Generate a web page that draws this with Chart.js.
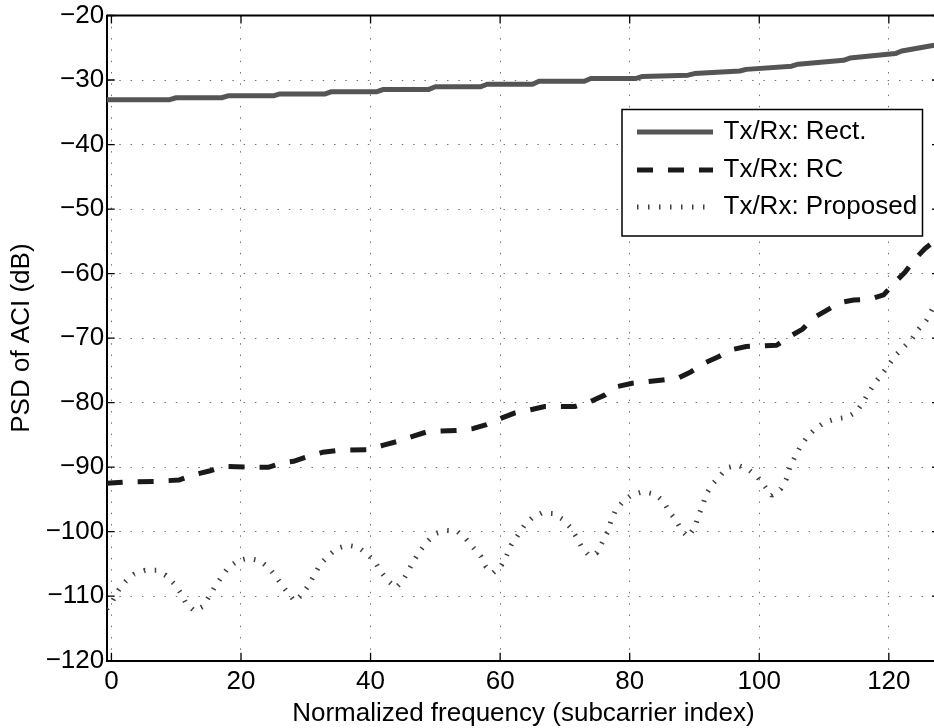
<!DOCTYPE html>
<html><head><meta charset="utf-8">
<style>
html,body{margin:0;padding:0;background:#fff;overflow:hidden;width:934px;height:728px}
#wrap{position:relative;width:942px;height:728px}
</style>
<script src="https://cdn.jsdelivr.net/npm/chart.js@4.4.0/dist/chart.umd.min.js"></script>
</head><body><div id="wrap"><canvas id="c" width="942" height="728"></canvas></div>
<script>
// ---- data ----
const xTicks = [0, 20, 40, 60, 80, 100, 120];
const yTicks = [-120, -110, -100, -90, -80, -70, -60, -50, -40, -30, -20];
const seriesNames = ['Tx/Rx: Rect.', 'Tx/Rx: RC', 'Tx/Rx: Proposed'];

const rectX = [-0.73, 9, 10, 17, 18, 25, 26, 33, 34, 41, 42, 49, 50, 57, 58, 65, 66, 73, 74, 81, 82, 89, 90, 97, 98, 105, 106, 113, 114, 121, 122, 127];
const rectY = [-33.05, -33.05, -32.75, -32.75, -32.45, -32.45, -32.15, -32.15, -31.8, -31.8, -31.45, -31.45, -31.05, -31.05, -30.65, -30.65, -30.2, -30.2, -29.75, -29.75, -29.45, -29.25, -29.0, -28.6, -28.35, -27.85, -27.55, -26.95, -26.6, -25.9, -25.5, -24.6];

const rcX = [-0.73, 2.1, 6.9, 10.4, 12.6, 15.1, 17.3, 22.0, 24.3, 26.6, 28.1, 30.2, 32.6, 34.9, 39.6, 42.0, 44.2, 46.6, 48.8, 53.4, 55.9, 57.9, 60.2, 62.3, 64.7, 66.9, 71.6, 74.0, 76.2, 78.1, 80.4, 85.1, 87.5, 89.5, 91.5, 93.7, 95.7, 98.0, 102.7, 104.6, 106.7, 108.3, 110.4, 112.4, 114.6, 117.0, 119.2, 120.9, 122.5, 123.9, 125.6, 127];
const rcY = [-92.5, -92.3, -92.2, -92.0, -91.2, -90.6, -89.9, -90.0, -90.0, -89.3, -89.1, -88.4, -87.7, -87.4, -87.3, -86.6, -86.0, -85.2, -84.5, -84.3, -84.0, -83.4, -82.4, -81.6, -81.1, -80.6, -80.6, -79.8, -78.8, -77.5, -77.0, -76.5, -76.2, -75.2, -73.9, -72.9, -71.8, -71.3, -71.1, -69.8, -68.6, -66.9, -65.7, -64.5, -64.1, -64.0, -63.3, -61.4, -59.8, -57.9, -56.1, -55.0];

const propX = [-0.73, 0.2, 1.07, 2.2, 3.5, 5.2, 7.0, 8.4, 9.7, 10.7, 11.5, 12.8, 14.1, 15.1, 16.0, 17.0, 18.0, 19.5, 21.1, 22.9, 24.3, 25.4, 26.4, 27.5, 28.3, 29.5, 30.5, 31.3, 32.2, 33.3, 34.8, 36.4, 38.1, 39.5, 40.7, 41.6, 42.7, 43.9, 45.0, 45.9, 46.7, 47.6, 48.7, 50.0, 51.6, 53.3, 54.7, 55.8, 57.0, 57.8, 58.9, 60.2, 61.0, 61.7, 62.7, 63.7, 64.9, 66.4, 68.2, 69.7, 70.9, 71.8, 72.6, 73.7, 74.9, 75.8, 76.6, 77.1, 77.8, 79.0, 80.3, 82.1, 83.9, 85.2, 86.1, 87.2, 88.0, 89.0, 90.1, 90.6, 91.3, 91.8, 92.8, 93.9, 95.0, 96.7, 98.4, 99.8, 100.8, 101.9, 103.3, 104.2, 104.7, 105.5, 106.3, 107.4, 108.6, 110.0, 111.8, 113.5, 115.0, 116.0, 116.9, 117.9, 119.0, 120.1, 121.1, 122.3, 123.6, 124.6, 125.8, 127];
const propY = [-112.0, -110.7, -109.1, -107.7, -106.6, -106.0, -106.0, -106.8, -108.1, -109.5, -111.1, -112.3, -111.6, -110.0, -108.5, -107.0, -105.6, -104.5, -104.1, -104.5, -105.6, -107.0, -108.4, -109.8, -110.8, -109.7, -108.2, -106.7, -105.1, -103.9, -102.6, -102.1, -102.4, -103.5, -104.7, -106.2, -107.6, -108.7, -107.6, -105.9, -104.5, -103.0, -101.6, -100.3, -99.8, -99.9, -101.1, -102.4, -103.8, -105.4, -106.4, -105.2, -103.7, -102.1, -100.6, -99.1, -97.9, -97.1, -97.2, -98.1, -99.4, -100.9, -102.4, -103.7, -103.3, -101.6, -100.0, -98.4, -96.7, -95.3, -94.3, -93.8, -94.2, -95.3, -96.9, -98.3, -99.8, -100.8, -99.2, -97.6, -95.8, -94.2, -92.6, -91.4, -90.1, -89.7, -90.4, -91.6, -92.9, -94.4, -93.4, -91.8, -90.1, -88.4, -86.9, -85.3, -84.1, -83.1, -82.5, -82.3, -81.4, -80.0, -78.4, -76.9, -75.5, -74.0, -72.6, -71.4, -70.1, -68.6, -67.2, -65.0];

// ---- build chart ----
const FONT = '"Liberation Sans", Arial, Helvetica, sans-serif';
const FS = 26;
const pts = (xs, ys) => xs.map((x, i) => ({x: x, y: ys[i]}));
const fmt = v => (v < 0 ? '\u2212' + Math.abs(v) : String(v));

const inwardTicks = {
  id: 'inwardTicks',
  afterDatasetsDraw(chart) {
    const {ctx, chartArea: a, scales: {x, y}} = chart;
    const L = 8;
    ctx.save();
    ctx.strokeStyle = '#000';
    ctx.lineWidth = 1.3;
    ctx.beginPath();
    xTicks.forEach(v => {
      const px = x.getPixelForValue(v);
      ctx.moveTo(px, a.bottom); ctx.lineTo(px, a.bottom - L);
      ctx.moveTo(px, a.top); ctx.lineTo(px, a.top + L);
    });
    yTicks.forEach(v => {
      const py = y.getPixelForValue(v);
      ctx.moveTo(a.left, py); ctx.lineTo(a.left + L, py);
      ctx.moveTo(a.right, py); ctx.lineTo(a.right - L, py);
    });
    ctx.stroke();
    ctx.lineWidth = 2;
    ctx.beginPath();
    ctx.moveTo(a.left, a.top); ctx.lineTo(a.right, a.top); ctx.lineTo(a.right, a.bottom);
    ctx.stroke();
    ctx.restore();
  }
};

const boxLegend = {
  id: 'boxLegend',
  afterDatasetsDraw(chart) {
    const ctx = chart.ctx;
    ctx.save();
    const L = 622, T = 109.5, W = 300.5, H = 126.5;
    ctx.fillStyle = '#fff';
    ctx.fillRect(L, T, W, H);
    ctx.lineWidth = 1.5;
    ctx.strokeStyle = '#000';
    ctx.setLineDash([]);
    ctx.strokeRect(L, T, W, H);
    const rows = [132, 170, 207];
    chart.data.datasets.forEach((ds, i) => {
      ctx.beginPath();
      ctx.lineWidth = ds.borderWidth;
      ctx.strokeStyle = ds.borderColor;
      ctx.lineCap = 'butt';
      ctx.setLineDash(ds.borderDash || []);
      ctx.moveTo(637, rows[i]); ctx.lineTo(713, rows[i]);
      ctx.stroke();
      ctx.setLineDash([]);
      ctx.fillStyle = '#000';
      ctx.font = FS + 'px ' + FONT;
      ctx.textBaseline = 'middle';
      ctx.textAlign = 'left';
      ctx.fillText(ds.label, 723.5, rows[i]);
    });
    ctx.restore();
  }
};

new Chart(document.getElementById('c'), {
  type: 'line',
  data: {
    datasets: [
      {label: seriesNames[0], data: pts(rectX, rectY), borderColor: '#555555', borderWidth: 5, borderDash: [], pointRadius: 0, tension: 0, fill: false, borderJoinStyle: 'round'},
      {label: seriesNames[1], data: pts(rcX, rcY), borderColor: '#1a1a1a', borderWidth: 5, borderDash: [16, 15], pointRadius: 0, tension: 0, fill: false, borderJoinStyle: 'round'},
      {label: seriesNames[2], data: pts(propX, propY), borderColor: '#404040', borderWidth: 5, borderDash: [1.5, 9.5], pointRadius: 0, tension: 0, fill: false, borderJoinStyle: 'bevel'}
    ]
  },
  options: {
    responsive: false,
    animation: false,
    devicePixelRatio: 1,
    layout: {padding: {top: 13.3, right: 2, left: 0, bottom: 0}},
    plugins: {legend: {display: false}, tooltip: {enabled: false}},
    scales: {
      x: {
        type: 'linear', min: -0.73, max: 127.9,
        afterBuildTicks: s => { s.ticks = xTicks.map(v => ({value: v})); },
        afterFit: s => { s.height = 67.3; },
        ticks: {color: '#000', font: {family: FONT, size: FS, lineHeight: 1}, padding: 8.5, maxRotation: 0, autoSkip: false, callback: v => fmt(v)},
        grid: {color: 'rgba(0,0,0,0.55)', lineWidth: 1, drawTicks: false},
        border: {display: true, color: '#000', width: 2, dash: [1.5, 9.8]},
        title: {display: true, text: 'Normalized frequency (subcarrier index)', color: '#000', font: {family: FONT, size: FS, lineHeight: 1.2}, padding: {top: 0, bottom: -1}}
      },
      y: {
        type: 'linear', min: -120, max: -20,
        afterBuildTicks: s => { s.ticks = yTicks.map(v => ({value: v})); },
        afterFit: s => { s.width = 106.7; },
        ticks: {color: '#000', font: {family: FONT, size: FS, lineHeight: 1}, padding: 2.5, autoSkip: false, callback: v => fmt(v)},
        grid: {color: 'rgba(0,0,0,0.55)', lineWidth: 1, drawTicks: false},
        border: {display: true, color: '#000', width: 2, dash: [1.5, 9.8]},
        title: {display: true, text: 'PSD of ACI (dB)', color: '#000', font: {family: FONT, size: FS, lineHeight: 1.2}, padding: {top: 6, bottom: 0}}
      }
    }
  },
  plugins: [inwardTicks, boxLegend]
});
</script>
</body></html>
